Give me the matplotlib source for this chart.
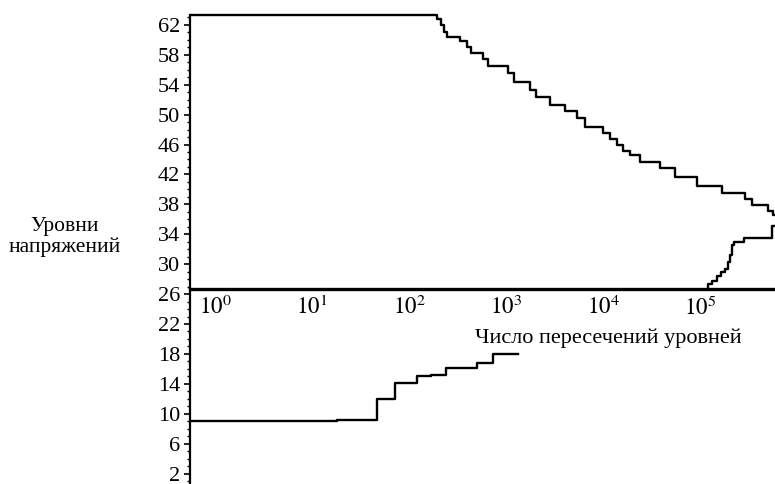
import numpy as np
import matplotlib
matplotlib.use("Agg")
import matplotlib.pyplot as plt

plt.rcParams["font.family"] = ["Liberation Serif", "DejaVu Serif"]
plt.rcParams["mathtext.fontset"] = "stix"

# --- верхняя ветвь: уровень и правый конец горизонтальной ступени (число пересечений)
upper_levels = [63.3, 62.8, 62.0, 61.0, 60.4, 59.9, 59.0, 58.3, 57.5, 56.5, 55.5,
                54.4, 53.3, 52.4, 51.3, 50.5, 49.5, 48.4, 47.5, 46.8, 46.0, 45.2,
                44.6, 43.7, 42.8, 41.6, 40.5, 39.5, 38.7, 37.9, 37.1, 36.6]
upper_counts = [194, 214, 230, 246, 336, 396, 436, 579, 652, 1050, 1210,
                1770, 2040, 2840, 4060, 5400, 6520, 10000, 11800, 13900, 16100, 19000,
                24000, 38700, 55200, 93000, 169000, 291000, 344000, 502000, 566000, 1.07e6]

# --- нижняя правая ветвь (от оси вверх)
right_levels = [26.7, 27.3, 27.8, 28.4, 29.0, 29.4, 30.3, 31.2, 32.5, 33.0, 33.5, 35.1]
right_counts = [121000, 133000, 150000, 165000, 181000, 194000, 204000, 214000,
                224000, 284000, 552000, 1.07e6]

# --- нижняя левая ветвь
lower_levels = [9.0, 9.2, 12.0, 14.1, 15.0, 15.2, 16.1, 16.8, 18.0]
lower_counts = [18, 47, 72, 121, 170, 241, 505, 740, 1330]

x_min = 0.552
x_max = 5.93e5
axis_level = 26.7

fig = plt.figure(figsize=(7.75, 4.84), dpi=100)
ax = fig.add_axes([0.2452, 0.0, 0.7548, 0.9733])

lw = 1.7
ux = np.r_[x_min, upper_counts]
uy = np.r_[upper_levels, upper_levels[-1]]
ax.step(ux, uy, where="post", color="black", lw=lw)

ax.step(right_counts, right_levels, where="pre", color="black", lw=lw)
ax.plot([right_counts[-1], upper_counts[-1]], [right_levels[-1], upper_levels[-1]],
        color="black", lw=lw)

lx = np.r_[x_min, lower_counts]
ly = np.r_[lower_levels, lower_levels[-1]]
ax.step(lx, ly, where="post", color="black", lw=lw)

ax.set_xscale("log")
ax.set_xlim(x_min, x_max)
ax.set_ylim(0.6, 63.6)

ax.spines["top"].set_visible(False)
ax.spines["right"].set_visible(False)
ax.spines["bottom"].set_position(("data", axis_level))
ax.spines["bottom"].set_linewidth(2.4)
ax.spines["left"].set_linewidth(1.6)
ax.spines["left"].set_bounds(0.6, 63.3)

ax.set_xticks([1, 10, 100, 1000, 1e4, 1e5])
ax.set_xticklabels([r"$10^{0}$", r"$10^{1}$", r"$10^{2}$", r"$10^{3}$",
                    r"$10^{4}$", r"$10^{5}$"])
ax.xaxis.set_minor_locator(matplotlib.ticker.NullLocator())
ax.tick_params(axis="x", length=0, pad=5, labelsize=16.5)

ax.set_yticks(np.arange(2, 63, 4))
ax.yaxis.set_minor_locator(matplotlib.ticker.MultipleLocator(1))
ax.tick_params(axis="y", which="major", direction="out", length=4, width=1.2,
               pad=3, labelsize=16)
ax.tick_params(axis="y", which="minor", direction="out", length=2.5, width=1.0)

fig.text(608 / 775, 1 - 338 / 484, "Число пересечений уровней",
         ha="center", va="center", fontsize=16)
fig.text(65 / 775, 1 - 237 / 484, "Уровни\nнапряжений",
         ha="center", va="center", fontsize=15.5, multialignment="center",
         linespacing=1.15)

fig.savefig("out.png", dpi=100)
